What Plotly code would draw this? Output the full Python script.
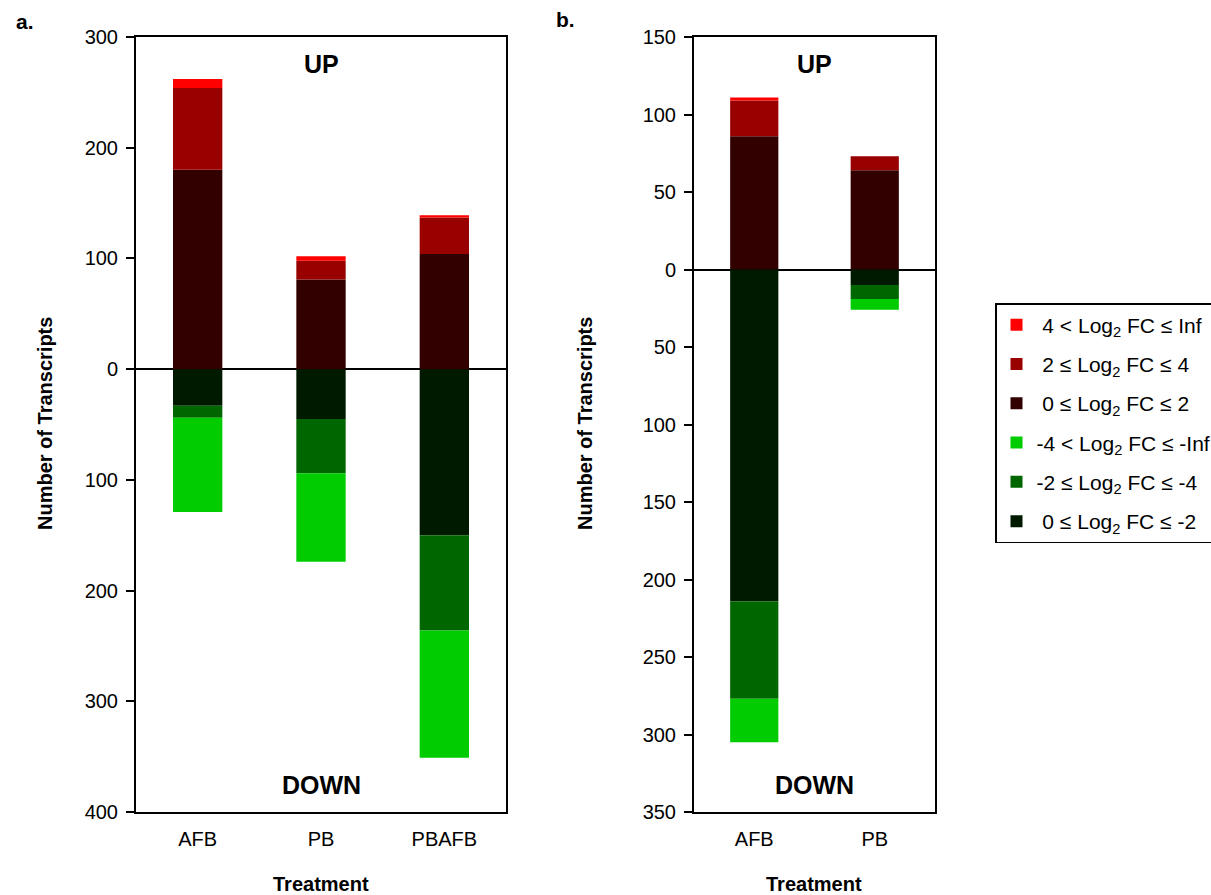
import plotly.graph_objects as go

FONT = "Liberation Sans, Arial, sans-serif"

# Panel a
cats_a = ["AFB", "PB", "PBAFB"]
a_up_0_2 = [180, 81, 104]
a_up_2_4 = [74, 17, 33]
a_up_4_inf = [8, 4, 2]
a_dn_0_2 = [33, 45, 150]
a_dn_2_4 = [11, 49, 86]
a_dn_4_inf = [85, 80, 115]

# Panel b
cats_b = ["AFB", "PB"]
b_up_0_2 = [86, 64]
b_up_2_4 = [23, 9]
b_up_4_inf = [2, 0]
b_dn_0_2 = [214, 10]
b_dn_2_4 = [63, 9]
b_dn_4_inf = [28, 7]

ticks_a = [300, 200, 100, 0, -100, -200, -300, -400]
ticks_b = [150, 100, 50, 0, -50, -100, -150, -200, -250, -300, -350]

series = [
    # name, color, sign, data_a, data_b, legendrank
    ("\u00a04 < Log<sub>2</sub> FC \u2264 Inf", "#ff0000", 1, a_up_4_inf, b_up_4_inf, 1),
    ("\u00a02 \u2264 Log<sub>2</sub> FC \u2264 4", "#990000", 1, a_up_2_4, b_up_2_4, 2),
    ("\u00a00 \u2264 Log<sub>2</sub> FC \u2264 2", "#330000", 1, a_up_0_2, b_up_0_2, 3),
    ("-4 < Log<sub>2</sub> FC \u2264 -Inf", "#00cc00", -1, a_dn_4_inf, b_dn_4_inf, 4),
    ("-2 \u2264 Log<sub>2</sub> FC \u2264 -4", "#006600", -1, a_dn_2_4, b_dn_2_4, 5),
    ("\u00a00 \u2264 Log<sub>2</sub> FC \u2264 -2", "#001a00", -1, a_dn_0_2, b_dn_0_2, 6),
]
# stacking order from the zero line outward
stack_order = [2, 1, 0, 5, 4, 3]

fig = go.Figure()
for idx in stack_order:
    name, color, sign, da, db, rank = series[idx]
    fig.add_trace(go.Bar(
        x=cats_a, y=[sign * v for v in da], name=name, marker=dict(color=color, line=dict(width=0)),
        width=0.4, legendgroup=str(rank), legendrank=rank, showlegend=True,
        xaxis="x", yaxis="y"))
    fig.add_trace(go.Bar(
        x=cats_b, y=[sign * v for v in db], name=name, marker=dict(color=color, line=dict(width=0)),
        width=0.4, legendgroup=str(rank), legendrank=rank, showlegend=False,
        xaxis="x2", yaxis="y2"))

W, H = 1211, 895
def px_x(p):
    return p / W
def px_y(p):
    return 1 - p / H

ydom = [px_y(812), px_y(37)]

axis_common = dict(showline=True, linecolor="black", linewidth=2, mirror=True,
                   showgrid=False, automargin=False,
                   tickfont=dict(family=FONT, size=20, color="black"))

yaxis_common = dict(ticks="outside", ticklen=8, tickwidth=2, tickcolor="black",
                    zeroline=True, zerolinecolor="black", zerolinewidth=2,
                    ticklabelstandoff=4)

fig.update_layout(
    width=W, height=H,
    margin=dict(l=0, r=0, t=0, b=0, pad=0, autoexpand=False),
    paper_bgcolor="white", plot_bgcolor="white",
    barmode="relative",
    font=dict(family=FONT, color="black"),
    xaxis=dict(domain=[px_x(136), px_x(506)], anchor="y", ticks="", ticklabelstandoff=8,
               **axis_common),
    yaxis=dict(domain=ydom, anchor="x", range=[-400, 300], tickvals=ticks_a,
               ticktext=[str(abs(v)) for v in ticks_a], **yaxis_common, **axis_common),
    xaxis2=dict(domain=[px_x(694), px_x(935)], anchor="y2", ticks="", ticklabelstandoff=8,
                **axis_common),
    yaxis2=dict(domain=ydom, anchor="x2", range=[-350, 150], tickvals=ticks_b,
                ticktext=[str(abs(v)) for v in ticks_b], **yaxis_common, **axis_common),
    legend=dict(x=px_x(995), y=px_y(303), xanchor="left", yanchor="top",
                bordercolor="black", borderwidth=1.5, bgcolor="white",
                font=dict(family=FONT, size=21, color="black"),
                traceorder="grouped", tracegroupgap=9, itemwidth=30),
)

ann = [
    ("<b>UP</b>", 321, 64, 25, 0),
    ("<b>DOWN</b>", 321, 785, 25, 0),
    ("<b>UP</b>", 814, 64, 25, 0),
    ("<b>DOWN</b>", 814, 785, 25, 0),
    ("<b>a.</b>", 25, 22, 21, 0),
    ("<b>b.</b>", 565, 20, 21, 0),
    ("<b>Treatment</b>", 321, 884, 20, 0),
    ("<b>Treatment</b>", 814, 884, 20, 0),
    ("<b>Number of Transcripts</b>", 45, 424, 20, -90),
    ("<b>Number of Transcripts</b>", 585, 424, 20, -90),
]
for text, x, y, size, ang in ann:
    fig.add_annotation(text=text, x=px_x(x), y=px_y(y), xref="paper", yref="paper",
                       xanchor="center", yanchor="middle", showarrow=False, textangle=ang,
                       font=dict(family=FONT, size=size, color="black"))

fig.write_html("out.html")
